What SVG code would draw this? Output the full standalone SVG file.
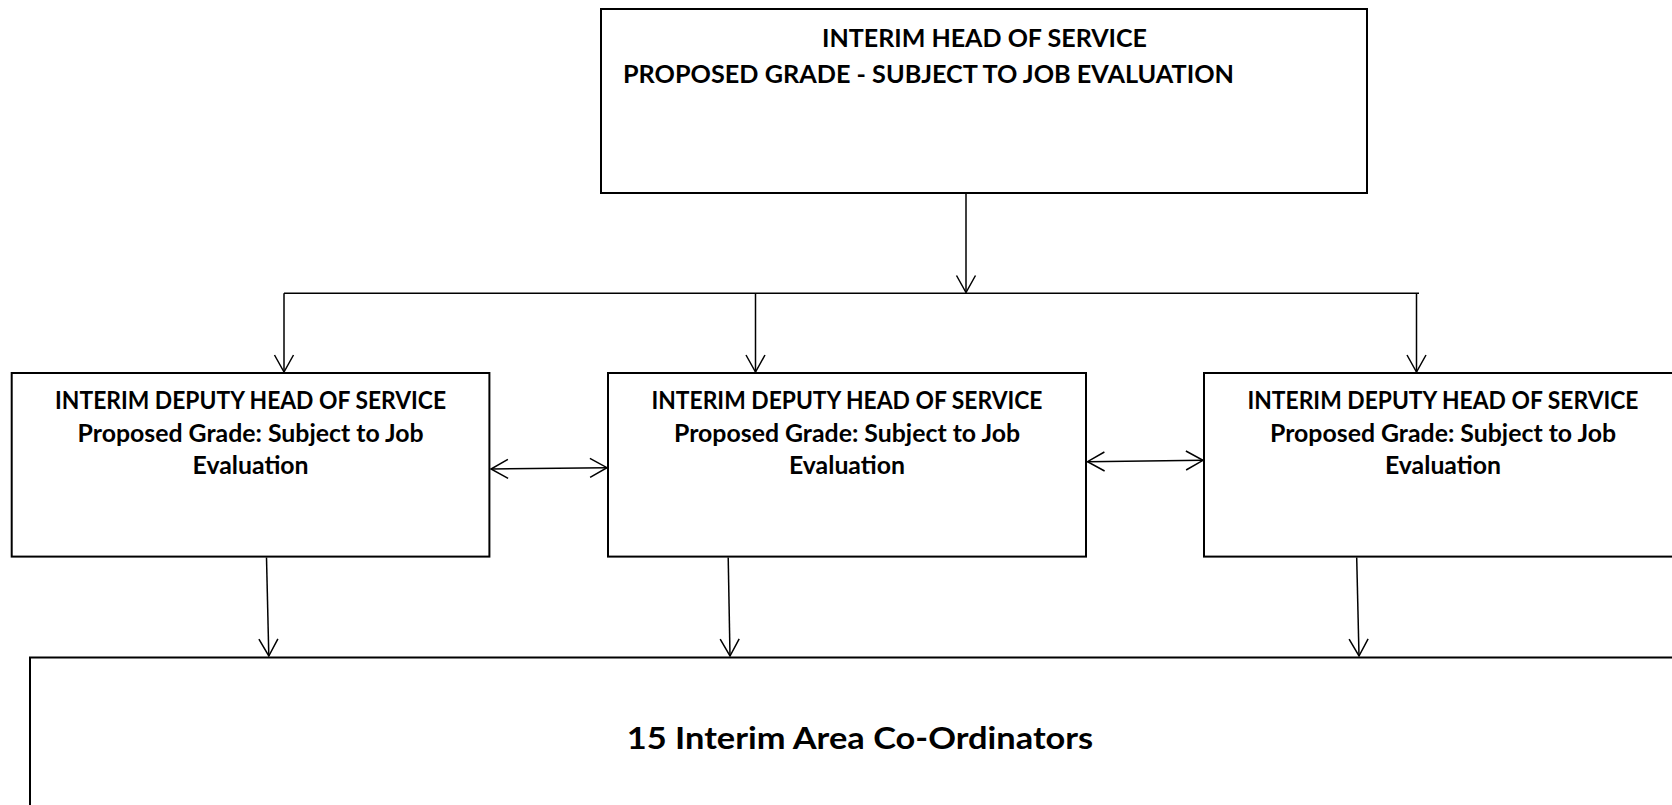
<svg xmlns="http://www.w3.org/2000/svg" width="1672" height="805" viewBox="0 0 1672 805">
  <style>
    .box { fill: #ffffff; stroke: #000000; stroke-width: 2; }
    .t { font-family: Lato, "Liberation Sans", sans-serif; font-weight: bold; fill: #000000; font-size: 25px; }
    .tc { text-anchor: middle; }
    .big { font-size: 31px; }
    .con { stroke: #000000; stroke-width: 1.5; fill: none; }
  </style>
  <defs>
    <marker id="arr" markerUnits="userSpaceOnUse" markerWidth="24" markerHeight="24" viewBox="-20 -12 24 24" refX="0" refY="0" orient="auto-start-reverse" overflow="visible">
      <path d="M-17,-9.5 L0,0 L-17,9.5" fill="none" stroke="#000000" stroke-width="1.5"/>
    </marker>
  </defs>
  <rect x="0" y="0" width="1672" height="805" fill="#ffffff"/>

  <g id="head">
    <rect class="box" x="601" y="9" width="766" height="184"/>
    <text class="t tc" x="984.5" y="46.5" textLength="325" lengthAdjust="spacingAndGlyphs">INTERIM HEAD OF SERVICE</text>
    <text class="t" x="623" y="83.3" textLength="611" lengthAdjust="spacingAndGlyphs">PROPOSED GRADE - SUBJECT TO JOB EVALUATION</text>
  </g>

  <g id="deputy1">
    <rect class="box" x="11.7" y="373" width="477.7" height="183.6"/>
    <text class="t tc" x="250.6" y="409.3" textLength="391" lengthAdjust="spacingAndGlyphs">INTERIM DEPUTY HEAD OF SERVICE</text>
    <text class="t tc" x="250.6" y="442" textLength="346" lengthAdjust="spacingAndGlyphs">Proposed Grade: Subject to Job</text>
    <text class="t tc" x="250.6" y="474" textLength="116" lengthAdjust="spacingAndGlyphs">Evaluation</text>
  </g>

  <g id="deputy2">
    <rect class="box" x="608" y="373" width="478" height="183.6"/>
    <text class="t tc" x="847" y="409.3" textLength="391" lengthAdjust="spacingAndGlyphs">INTERIM DEPUTY HEAD OF SERVICE</text>
    <text class="t tc" x="847" y="442" textLength="346" lengthAdjust="spacingAndGlyphs">Proposed Grade: Subject to Job</text>
    <text class="t tc" x="847" y="474" textLength="116" lengthAdjust="spacingAndGlyphs">Evaluation</text>
  </g>

  <g id="deputy3">
    <rect class="box" x="1204" y="373" width="478" height="183.6"/>
    <text class="t tc" x="1443" y="409.3" textLength="391" lengthAdjust="spacingAndGlyphs">INTERIM DEPUTY HEAD OF SERVICE</text>
    <text class="t tc" x="1443" y="442" textLength="346" lengthAdjust="spacingAndGlyphs">Proposed Grade: Subject to Job</text>
    <text class="t tc" x="1443" y="474" textLength="116" lengthAdjust="spacingAndGlyphs">Evaluation</text>
  </g>

  <g id="coordinators">
    <rect class="box" x="30" y="657.5" width="1700" height="200"/>
    <text class="t tc big" x="860" y="749.3" textLength="466.5" lengthAdjust="spacingAndGlyphs">15 Interim Area Co-Ordinators</text>
  </g>

  <g id="connectors">
    <line class="con" x1="966" y1="193" x2="966" y2="292.5" marker-end="url(#arr)"/>
    <line class="con" x1="284" y1="293.3" x2="1419" y2="293.3"/>
    <line class="con" x1="284" y1="293.3" x2="284" y2="372" marker-end="url(#arr)"/>
    <line class="con" x1="755.5" y1="293.3" x2="755.5" y2="372" marker-end="url(#arr)"/>
    <line class="con" x1="1416.5" y1="293.3" x2="1416.5" y2="372" marker-end="url(#arr)"/>
    <line class="con" x1="491" y1="469" x2="607" y2="467.7" marker-start="url(#arr)" marker-end="url(#arr)"/>
    <line class="con" x1="1087.5" y1="461.7" x2="1203" y2="460.3" marker-start="url(#arr)" marker-end="url(#arr)"/>
    <line class="con" x1="266.5" y1="557.5" x2="268.8" y2="656" marker-end="url(#arr)"/>
    <line class="con" x1="728.2" y1="557.5" x2="730" y2="656" marker-end="url(#arr)"/>
    <line class="con" x1="1356.7" y1="557.5" x2="1359" y2="656" marker-end="url(#arr)"/>
  </g>
</svg>
